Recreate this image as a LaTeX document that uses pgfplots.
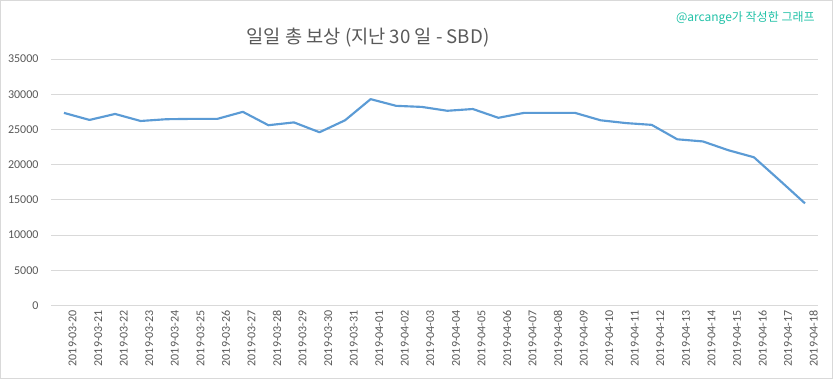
\documentclass[border=0pt]{standalone}
\usepackage{pgfplots}
\pgfplotsset{compat=1.18}
\usepackage{fontspec}
\setmainfont{Carlito}
\newfontfamily\kr{Noto Sans CJK KR}
\definecolor{txtc}{HTML}{595959}
\definecolor{gridc}{HTML}{D9D9D9}
\definecolor{serc}{HTML}{5B9BD5}
\definecolor{wmc}{HTML}{22C2A8}
\begin{document}
\begin{tikzpicture}
\useasboundingbox (0pt,0pt) rectangle (624.75pt,284.25pt);
\fill[white] (0pt,0pt) rectangle (624.75pt,284.25pt);
\draw[gridc,line width=0.75pt] (0.375pt,0.375pt) rectangle (624.375pt,283.875pt);
\begin{axis}[
  at={(38.4pt,55.1pt)}, anchor=south west,
  scale only axis, width=574.95pt, height=184.9pt,
  xmin=-0.5, xmax=29.5, ymin=0, ymax=35000,
  ytick={0,5000,...,35000},
  xtick={0,...,29},
  xticklabels={2019-03-20,2019-03-21,2019-03-22,2019-03-23,2019-03-24,2019-03-25,2019-03-26,2019-03-27,2019-03-28,2019-03-29,2019-03-30,2019-03-31,2019-04-01,2019-04-02,2019-04-03,2019-04-04,2019-04-05,2019-04-06,2019-04-07,2019-04-08,2019-04-09,2019-04-10,2019-04-11,2019-04-12,2019-04-13,2019-04-14,2019-04-15,2019-04-16,2019-04-17,2019-04-18},
  x tick label style={rotate=90, anchor=east, font=\fontsize{9}{10}\selectfont, text=txtc},
  y tick label style={font=\fontsize{9}{10}\selectfont, text=txtc},
  /pgf/number format/assume math mode=true,
  /pgf/number format/1000 sep={},
  scaled y ticks=false,
  ymajorgrids, xmajorgrids=false,
  grid style={draw=gridc, line width=0.75pt},
  axis line style={draw=none},
  major tick length=0pt,
  xticklabel style={yshift=-6.5pt},
  yticklabel style={xshift=-6pt},
  clip=false,
]
\draw[gridc, line width=0.75pt] (axis cs:-0.5,0) -- (axis cs:29.5,0);
\addplot[serc, line width=1.6pt, mark=none, line join=round] coordinates {
(0,27350) (1,26350) (2,27200) (3,26200) (4,26450) (5,26500) (6,26500) (7,27500)
(8,25600) (9,26000) (10,24600) (11,26300) (12,29300) (13,28350) (14,28200)
(15,27650) (16,27900) (17,26650) (18,27350) (19,27350) (20,27350) (21,26300)
(22,25900) (23,25650) (24,23600) (25,23300) (26,22050) (27,21050) (28,17800) (29,14500)
};
\end{axis}
\node[text=txtc, font=\kr\fontsize{14}{16}\selectfont] at (276pt,255.75pt) {일일 총 보상 (지난 30 일 - SBD)};
\node[text=wmc, font=\kr\fontsize{9}{10}\selectfont, anchor=east] at (614.5pt,270.5pt) {@arcange가 작성한 그래프};
\end{tikzpicture}
\end{document}
